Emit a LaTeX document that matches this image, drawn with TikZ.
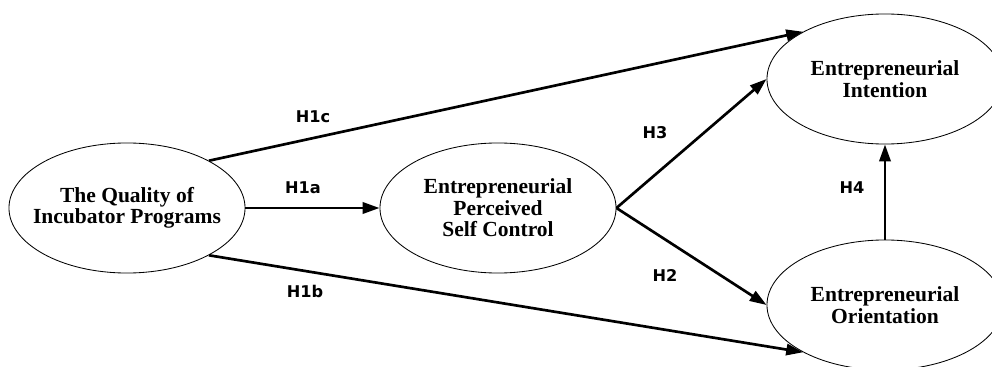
\documentclass[tikz,border=0pt]{standalone}
\usepackage{fontspec}
\setmainfont{Liberation Serif}
\newfontfamily\hypfont{DejaVu Sans}
\usetikzlibrary{shapes.geometric, arrows.meta}

\begin{document}
\begin{tikzpicture}[x=0.025cm, y=-0.025cm,
        construit/.style={ellipse, draw, line width=0.6pt, minimum width=5.9cm, minimum height=3.25cm,
            inner xsep=-10pt, inner ysep=0pt, align=center, font=\fontsize{15.3}{15.3}\selectfont\bfseries},
        lien/.style={line width=1.9pt, -{Triangle[length=12pt, width=8pt]}},
        hyp/.style={font=\hypfont\fontsize{11.5}{13}\selectfont\bfseries}]
        \useasboundingbox (0,0) rectangle (992,367);

        % Construits
        \node[construit] (qualite) at (127,208) {The Quality of\\Incubator Programs};
        \node[construit] (percu) at (498,208) {Entrepreneurial\\Perceived\\Self Control};
        \node[construit] (intention) at (885,79) {Entrepreneurial\\Intention};
        \node[construit] (orientation) at (885,305) {Entrepreneurial\\Orientation};

        % Hypotheses
        \draw[lien] (qualite.east) -- (percu.west);
        \draw[lien] (qualite.30) -- (intention.150);
        \draw[lien] (qualite.-30) -- (orientation.210);
        \draw[lien] (percu.east) -- (intention.west);
        \draw[lien] (percu.east) -- (orientation.west);
        \draw[lien] (orientation.north) -- (intention.south);

        % Etiquettes
        \node[hyp] (h1c) at (313,117) {H1c};
        \node[hyp] (h1a) at (303,188) {H1a};
        \node[hyp] (h1b) at (305,291) {H1b};
        \node[hyp] (h3) at (655,133) {H3};
        \node[hyp] (h2) at (665,275) {H2};
        \node[hyp] (h4) at (852,188) {H4};
    \end{tikzpicture}
\end{document}
